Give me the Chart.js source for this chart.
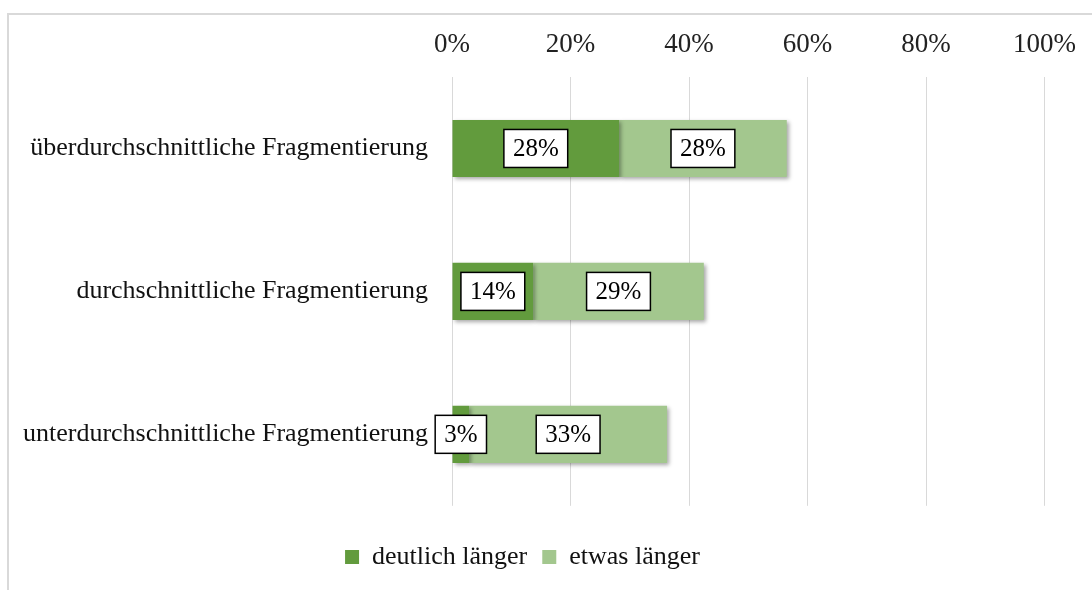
<!DOCTYPE html>
<html>
<head>
<meta charset="utf-8">
<script src="https://cdn.jsdelivr.net/npm/chart.js@4/dist/chart.umd.min.js"></script>
<style>
  html, body { margin: 0; padding: 0; background: #fff; overflow: hidden; }
  #frame {
    position: absolute; left: 7px; top: 13px; width: 1200px; height: 700px;
    border-top: 2px solid #d9d9d9; border-left: 2px solid #d9d9d9;
  }
  #wrap { position: absolute; left: 0; top: 0; width: 1092px; height: 590px; }
</style>
</head>
<body>
<div id="frame"></div>
<div id="wrap"><canvas id="chart"></canvas></div>
<script>
/* global Chart */

const categories = [
  'überdurchschnittliche Fragmentierung',
  'durchschnittliche Fragmentierung',
  'unterdurchschnittliche Fragmentierung'
];
const seriesNames = ['deutlich länger', 'etwas länger'];
const deutlichLaenger = [28.2, 13.7, 2.9];
const etwasLaenger = [28.3, 28.8, 33.4];
const xTicks = [0, 20, 40, 60, 80, 100];

const FONT = '"Liberation Serif", "Times New Roman", serif';
const DARK = '#629b3d';
const LIGHT = '#a3c78e';

// drop shadow under the bars + boxed value labels
const barExtras = {
  id: 'barExtras',
  beforeDatasetsDraw(chart) {
    const ctx = chart.ctx;
    ctx.save();
    ctx.shadowColor = 'rgba(0,0,0,0.35)';
    ctx.shadowBlur = 4;
    ctx.shadowOffsetX = 2;
    ctx.shadowOffsetY = 2;
  },
  afterDatasetsDraw(chart) {
    const ctx = chart.ctx;
    ctx.restore();
    ctx.save();
    ctx.font = '25px ' + FONT;
    ctx.textAlign = 'center';
    ctx.textBaseline = 'middle';
    chart.data.datasets.forEach((ds, di) => {
      const meta = chart.getDatasetMeta(di);
      meta.data.forEach((bar, i) => {
        const txt = Math.round(ds.data[i]) + '%';
        const cx = (bar.x + bar.base) / 2;
        const cy = bar.y;
        const w = ctx.measureText(txt).width + 18;
        const h = 38;
        ctx.fillStyle = '#fff';
        ctx.fillRect(cx - w / 2, cy - h / 2, w, h);
        ctx.lineWidth = 1.5;
        ctx.strokeStyle = '#000';
        ctx.strokeRect(cx - w / 2, cy - h / 2, w, h);
        ctx.fillStyle = '#000';
        ctx.fillText(txt, cx, cy + 1);
      });
    });
    ctx.restore();
  }
};

const ctx = document.getElementById('chart').getContext('2d');
new Chart(ctx, {
  type: 'bar',
  data: {
    labels: categories,
    datasets: [{
      label: seriesNames[0],
      data: deutlichLaenger,
      backgroundColor: DARK,
      borderWidth: 0
    }, {
      label: seriesNames[1],
      data: etwasLaenger,
      backgroundColor: LIGHT,
      borderWidth: 0
    }]
  },
  options: {
    indexAxis: 'y',
    responsive: true,
    maintainAspectRatio: false,
    animation: false,
    layout: { padding: { left: 0, right: 47, top: 0, bottom: 10 } },
    datasets: {
      bar: { categoryPercentage: 1, barPercentage: 0.4 }
    },
    scales: {
      x: {
        position: 'top',
        stacked: true,
        min: 0,
        max: 100,
        afterBuildTicks: s => { s.ticks = xTicks.map(v => ({ value: v })); },
        afterFit: s => { s.height = 77; },
        ticks: {
          color: '#222',
          font: { family: FONT, size: 27 },
          padding: 16,
          callback: v => v + '%'
        },
        grid: { color: '#d9d9d9', lineWidth: 1, drawTicks: false },
        border: { display: false }
      },
      y: {
        stacked: true,
        afterFit: s => { s.width = 452; },
        ticks: {
          color: '#111',
          font: { family: FONT, size: 26 },
          padding: 24
        },
        grid: { display: false, drawTicks: false },
        border: { display: false }
      }
    },
    plugins: {
      tooltip: { enabled: false },
      legend: {
        position: 'bottom',
        title: { display: true, text: '', font: { size: 1 }, padding: { top: 0, bottom: 22 } },
        labels: {
          color: '#111',
          font: { family: FONT, size: 26 },
          boxWidth: 14,
          boxHeight: 14,
          padding: 15
        }
      }
    }
  },
  plugins: [barExtras]
});
</script>
</body>
</html>
